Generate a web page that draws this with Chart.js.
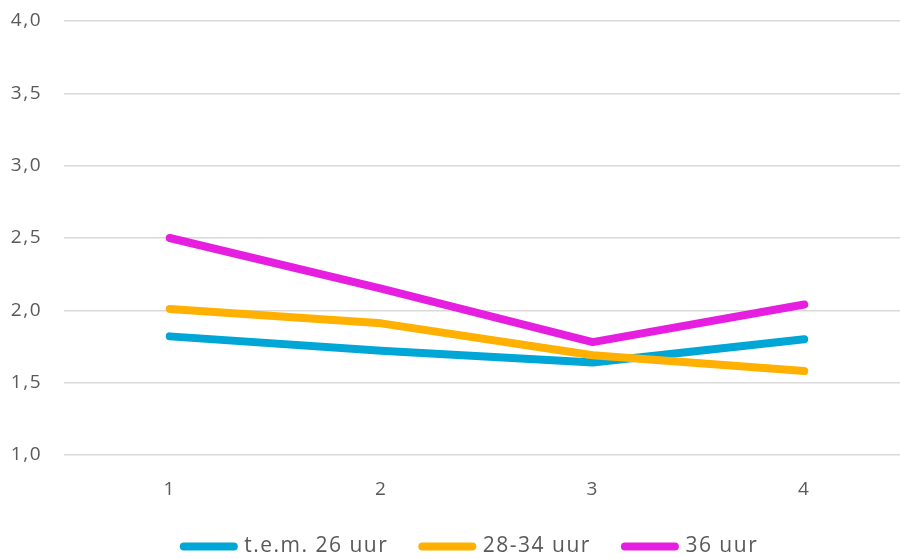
<!DOCTYPE html>
<html>
<head>
<meta charset="utf-8">
<script src="https://cdn.jsdelivr.net/npm/chart.js@4"></script>
<style>
html,body{margin:0;padding:0;background:#fff;overflow:hidden;}
#wrap{position:relative;width:910px;height:567px;}
</style>
</head>
<body>
<div id="wrap"><canvas id="c"></canvas></div>
<script>
const categories = ['1', '2', '3', '4'];
const seriesNames = ['t.e.m. 26 uur', '28-34 uur', '36 uur'];
const upTo26 = [1.82, 1.72, 1.64, 1.80];
const from28to34 = [2.01, 1.91, 1.69, 1.58];
const hours36 = [2.50, 2.15, 1.78, 2.04];
const yTicks = [1.0, 1.5, 2.0, 2.5, 3.0, 3.5, 4.0];

const colors = ['#00A6D6', '#FFB000', '#E61EE0'];
const values = [upTo26, from28to34, hours36];

const datasets = values.map((v, i) => ({
  label: seriesNames[i],
  data: v,
  borderColor: colors[i],
  backgroundColor: colors[i],
  borderWidth: 8,
  borderCapStyle: 'round',
  borderJoinStyle: 'round',
  pointRadius: 0,
  pointHoverRadius: 0,
  pointStyle: 'line',
  tension: 0,
  fill: false,
  order: 3 - i
}));

const spacing = {
  id: 'spacing',
  beforeUpdate(c) { c.ctx.letterSpacing = '1.5px'; },
  beforeLayout(c) { c.ctx.letterSpacing = '1.5px'; },
  afterLayout(c) { c.legend.left += 16; c.legend.right += 16; },
  beforeDraw(c) { c.ctx.letterSpacing = '1.5px'; }
};

const chart = new Chart(document.getElementById('c'), {
  type: 'line',
  data: { labels: categories, datasets },
  plugins: [spacing],
  options: {
    responsive: true,
    maintainAspectRatio: false,
    animation: false,
    layout: { padding: 0 },
    plugins: {
      tooltip: { enabled: false },
      legend: {
        position: 'bottom',
        labels: {
          usePointStyle: true,
          pointStyleWidth: 50,
          boxWidth: 34,
          boxHeight: 8,
          padding: 34,
          color: '#595959',
          font: { family: 'Open Sans', size: 21 },
          sort: (a, b) => a.datasetIndex - b.datasetIndex,
          generateLabels: (c) => Chart.defaults.plugins.legend.labels.generateLabels(c).map(it => {
            it.lineCap = 'round';
            it.lineWidth = 8;
            it.strokeStyle = colors[it.datasetIndex];
            return it;
          })
        }
      }
    },
    scales: {
      x: {
        offset: true,
        grid: { display: false, drawTicks: false },
        border: { display: false },
        ticks: { color: '#595959', font: { family: 'Open Sans', size: 19 }, padding: 23 },
        afterFit: (a) => { a.height = 47; a.paddingLeft = 0; a.paddingRight = 0; }
      },
      y: {
        min: 1, max: 4,
        afterBuildTicks: (axis) => { axis.ticks = yTicks.map(v => ({ value: v })); },
        grid: { color: '#D9D9D9', lineWidth: 1.5, drawTicks: false },
        border: { display: false },
        ticks: {
          color: '#595959',
          font: { family: 'Open Sans', size: 19 },
          padding: 22,
          callback: (v) => Number(v).toFixed(1).replace('.', ',')
        },
        afterFit: (a) => { a.width = 64; a.paddingTop = 21; a.paddingBottom = 0; }
      }
    }
  }
});
</script>
</body>
</html>
